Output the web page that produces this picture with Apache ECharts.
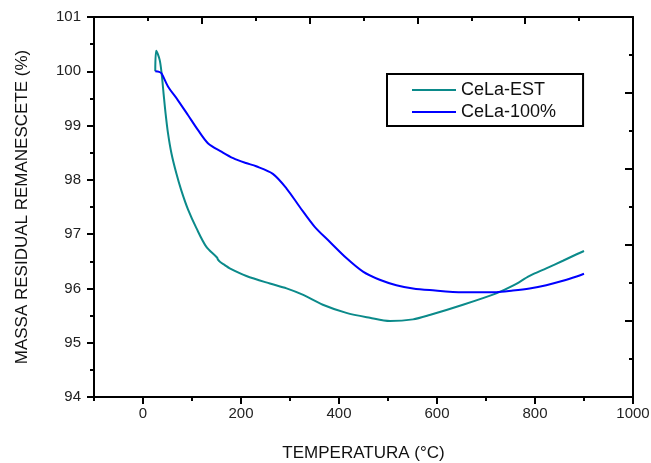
<!DOCTYPE html>
<html>
<head>
<meta charset="utf-8">
<script src="https://cdn.jsdelivr.net/npm/echarts@6/dist/echarts.min.js"></script>
<style>html,body{margin:0;padding:0;background:#fff}#c{width:651px;height:463px}</style>
</head>
<body>
<div id="c"></div>
<script>
// ---- data ----
const tempEST = [25, 27, 34, 38, 42, 46, 51, 58, 68, 78, 92, 109, 129, 151, 153, 157, 167, 177, 211, 259, 293, 327, 367, 415, 463, 504, 551, 585, 653, 721, 755, 789, 823, 857, 885, 900];
const massEST = [100.0, 100.38, 100.21, 99.96, 99.59, 99.23, 98.86, 98.49, 98.12, 97.81, 97.45, 97.11, 96.77, 96.57, 96.53, 96.49, 96.43, 96.37, 96.23, 96.09, 96.00, 95.88, 95.70, 95.55, 95.46, 95.40, 95.43, 95.51, 95.70, 95.91, 96.05, 96.23, 96.37, 96.51, 96.63, 96.69];
const temp100 = [25, 33, 38, 51, 71, 92, 112, 133, 160, 184, 210, 231, 265, 293, 320, 350, 381, 415, 449, 483, 517, 551, 585, 653, 721, 755, 789, 823, 857, 885, 900];
const mass100 = [100.0, 99.99, 99.96, 99.72, 99.47, 99.19, 98.92, 98.67, 98.52, 98.40, 98.31, 98.25, 98.11, 97.84, 97.50, 97.14, 96.86, 96.56, 96.31, 96.16, 96.06, 96.00, 95.97, 95.93, 95.93, 95.96, 96.00, 96.06, 96.14, 96.22, 96.27];
const seriesNames = ['CeLa-EST', 'CeLa-100%'];
const xTickLabels = [0, 200, 400, 600, 800, 1000];
const xMinorTicks = [-100, 100, 300, 500, 700, 900];
const yTickLabels = [94, 95, 96, 97, 98, 99, 100, 101];
const frameMajor = [2, 4, 6, 8];
const frameMinor = [1, 3, 5, 7, 9];

const zip = (a, b) => a.map((v, i) => [v, b[i]]);
const FONT = 'Liberation Sans, Arial, sans-serif';
const black = '#000';
const axLine = { show: true, onZero: false, lineStyle: { color: black, width: 2 } };
const noLine = { show: false, onZero: false };

const chart = echarts.init(document.getElementById('c'), null, { renderer: 'canvas' });
chart.setOption({
  animation: false,
  backgroundColor: '#fff',
  grid: { left: 94, right: 18, top: 17, bottom: 66, containLabel: false, outerBoundsMode: 'none' },
  legend: {
    orient: 'vertical',
    left: 387, top: 74,
    data: seriesNames,
    icon: 'rect',
    itemWidth: 44, itemHeight: 2,
    itemGap: 4,
    padding: [7, 27, 5, 25],
    borderColor: black, borderWidth: 2,
    textStyle: { fontFamily: FONT, fontSize: 18, color: '#111' }
  },
  xAxis: [
    {
      type: 'value', position: 'bottom', min: -100, max: 1000,
      axisLine: axLine,
      axisTick: { show: true, customValues: xTickLabels, length: 7, lineStyle: { color: black, width: 2 } },
      axisLabel: { customValues: xTickLabels, formatter: v => String(v), fontFamily: FONT, fontSize: 15, color: '#222', margin: 9 },
      splitLine: { show: false },
      name: 'TEMPERATURA (°C)', nameLocation: 'middle', nameGap: 48,
      nameTextStyle: { fontFamily: FONT, fontSize: 17, color: '#111' }
    },
    {
      type: 'value', position: 'bottom', min: -100, max: 1000,
      axisLine: noLine,
      axisTick: { show: true, customValues: xMinorTicks, length: 4, lineStyle: { color: black, width: 2 } },
      axisLabel: { show: false }, splitLine: { show: false }
    },
    {
      type: 'value', position: 'top', min: 0, max: 10,
      axisLine: axLine,
      axisTick: { show: true, inside: true, customValues: frameMajor, length: 7, lineStyle: { color: black, width: 2 } },
      axisLabel: { show: false }, splitLine: { show: false }
    },
    {
      type: 'value', position: 'top', min: 0, max: 10,
      axisLine: noLine,
      axisTick: { show: true, inside: true, customValues: frameMinor, length: 4, lineStyle: { color: black, width: 2 } },
      axisLabel: { show: false }, splitLine: { show: false }
    }
  ],
  yAxis: [
    {
      type: 'value', position: 'left', min: 94, max: 101, interval: 1,
      axisLine: axLine,
      axisTick: { show: true, length: 7, lineStyle: { color: black, width: 2 } },
      minorTick: { show: true, splitNumber: 2, length: 4, lineStyle: { color: black, width: 2 } },
      axisLabel: { fontFamily: FONT, fontSize: 15, color: '#222', margin: 13 },
      splitLine: { show: false },
      name: 'MASSA RESIDUAL REMANESCETE (%)', nameLocation: 'middle', nameGap: 63,
      nameTextStyle: { fontFamily: FONT, fontSize: 17, color: '#111' }
    },
    {
      type: 'value', position: 'right', min: 0, max: 10,
      axisLine: axLine,
      axisTick: { show: true, inside: true, customValues: frameMajor, length: 8, lineStyle: { color: black, width: 2 } },
      axisLabel: { show: false }, splitLine: { show: false }
    },
    {
      type: 'value', position: 'right', min: 0, max: 10,
      axisLine: noLine,
      axisTick: { show: true, inside: true, customValues: frameMinor, length: 4, lineStyle: { color: black, width: 2 } },
      axisLabel: { show: false }, splitLine: { show: false }
    }
  ],
  series: [
    {
      name: seriesNames[0], type: 'line', xAxisIndex: 0, yAxisIndex: 0,
      data: zip(tempEST, massEST), symbol: 'none', smooth: 0.3,
      color: '#0B8A8A', lineStyle: { color: '#0B8A8A', width: 2 }
    },
    {
      name: seriesNames[1], type: 'line', xAxisIndex: 0, yAxisIndex: 0,
      data: zip(temp100, mass100), symbol: 'none', smooth: 0.3,
      color: '#0000FF', lineStyle: { color: '#0000FF', width: 2 }
    }
  ]
});
</script>
</body>
</html>
